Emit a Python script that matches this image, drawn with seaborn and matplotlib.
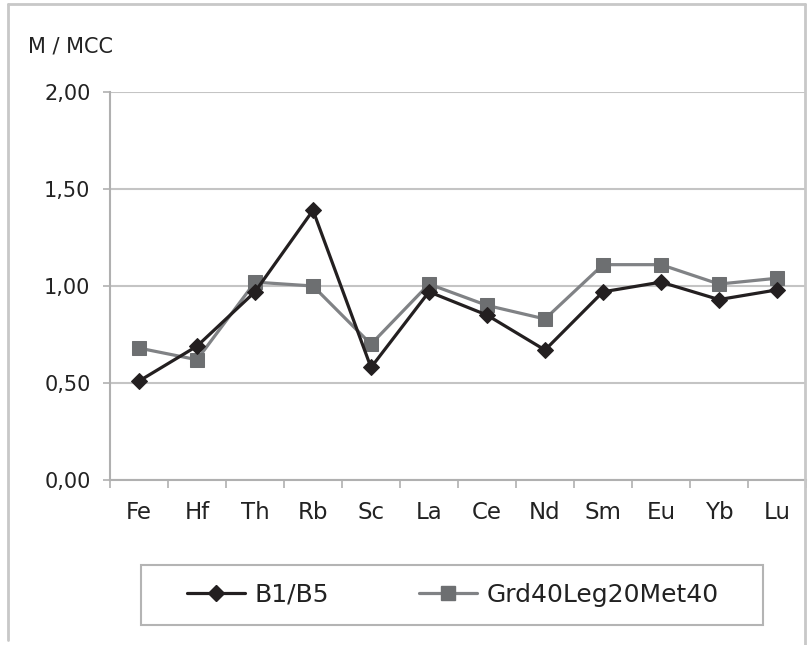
import matplotlib
matplotlib.use("Agg")
import matplotlib.pyplot as plt
import matplotlib.patches as mpatches
import matplotlib.lines as mlines
from matplotlib.ticker import FixedLocator, FuncFormatter
import pandas as pd
import seaborn as sns

elements = ["Fe", "Hf", "Th", "Rb", "Sc", "La", "Ce", "Nd", "Sm", "Eu", "Yb", "Lu"]
b1_b5 = [0.51, 0.69, 0.97, 1.39, 0.58, 0.97, 0.85, 0.67, 0.97, 1.02, 0.93, 0.98]
grd_mix = [0.68, 0.62, 1.02, 1.00, 0.70, 1.01, 0.90, 0.83, 1.11, 1.11, 1.01, 1.04]
y_ticks = [0.0, 0.5, 1.0, 1.5, 2.0]

sns.set_theme(style="white")
plt.rcParams['font.family'] = ['DejaVu Sans']

W, H = 808, 645
fig = plt.figure(figsize=(W / 100, H / 100), dpi=100)
ax = fig.add_axes([110 / W, 1 - 480 / H, (806 - 110) / W, (480 - 92) / H])

pos = list(range(len(elements)))
df = pd.DataFrame({"pos": pos, "b1": b1_b5, "grd": grd_mix})

sns.lineplot(data=df, x="pos", y="b1", ax=ax, color="#231f20", lw=2.3,
             marker="D", markersize=8, markeredgecolor="#231f20",
             markerfacecolor="#231f20", zorder=4)
sns.lineplot(data=df, x="pos", y="grd", ax=ax, color="#808285", lw=2.3,
             marker="s", markersize=10.5, markeredgecolor="#6d6f71",
             markerfacecolor="#6d6f71", zorder=3)

ax.set_xlim(-0.5, len(elements) - 0.5)
ax.set_ylim(0, 2)
ax.set_xlabel("")
ax.set_ylabel("")

ax.yaxis.set_major_locator(FixedLocator(y_ticks))
ax.yaxis.set_major_formatter(FuncFormatter(lambda v, p: f"{v:.2f}".replace(".", ",")))
ax.grid(axis="y", color="#c4c4c4", lw=1.5)
ax.grid(axis="x", visible=False)

ax.xaxis.set_major_locator(FixedLocator([p - 0.5 for p in pos] + [len(pos) - 0.5]))
ax.xaxis.set_major_formatter(FuncFormatter(lambda v, p: ""))
ax.xaxis.set_minor_locator(FixedLocator(pos))
ax.set_xticks(pos, elements, minor=True)

ax.tick_params(axis="x", which="major", direction="out", length=6, width=1.2,
               color="#b0b0b0", bottom=True)
ax.tick_params(axis="x", which="minor", length=0, pad=15, labelsize=16.5,
               labelcolor="#222222")
ax.tick_params(axis="y", direction="out", length=5, width=1.2, color="#b0b0b0",
               left=True, pad=9, labelsize=15, labelcolor="#222222")

for side in ["top", "right"]:
    ax.spines[side].set_visible(False)
for side in ["left", "bottom"]:
    ax.spines[side].set_color("#b0b0b0")
    ax.spines[side].set_linewidth(1.5)

# outer chart frame
frame_col = "#c8c8c8"
fig.add_artist(mlines.Line2D([8 / W, 805 / W], [1 - 4 / H, 1 - 4 / H],
                             transform=fig.transFigure, color=frame_col, lw=2))
fig.add_artist(mlines.Line2D([8 / W, 8 / W], [1 - 4 / H, 1 - 640 / H],
                             transform=fig.transFigure, color=frame_col, lw=2))
fig.add_artist(mlines.Line2D([805 / W, 805 / W], [1 - 4 / H, 0],
                             transform=fig.transFigure, color=frame_col, lw=2))

fig.text(28 / W, 1 - 46 / H, "M / MCC", fontsize=15, color="#222222",
         ha="left", va="center")

# legend
fig.add_artist(mpatches.Rectangle((141 / W, 1 - 625 / H), (763 - 141) / W, 60 / H,
                                  transform=fig.transFigure, fill=False,
                                  edgecolor="#b4b4b4", lw=1.5))
handles = [
    mlines.Line2D([], [], color="#231f20", lw=2.3, marker="D", markersize=8),
    mlines.Line2D([], [], color="#808285", lw=2.3, marker="s", markersize=10.5,
                  markerfacecolor="#6d6f71", markeredgecolor="#6d6f71"),
]
fig.legend(handles, ["B1/B5", "Grd40Leg20Met40"], loc="center",
           bbox_to_anchor=(453 / W, 1 - 595 / H), ncol=2, frameon=False,
           fontsize=18, handlelength=2.3, handletextpad=0.4, columnspacing=3.6,
           labelcolor="#222222")

fig.savefig("out.png", dpi=100, facecolor="white")
plt.close(fig)
